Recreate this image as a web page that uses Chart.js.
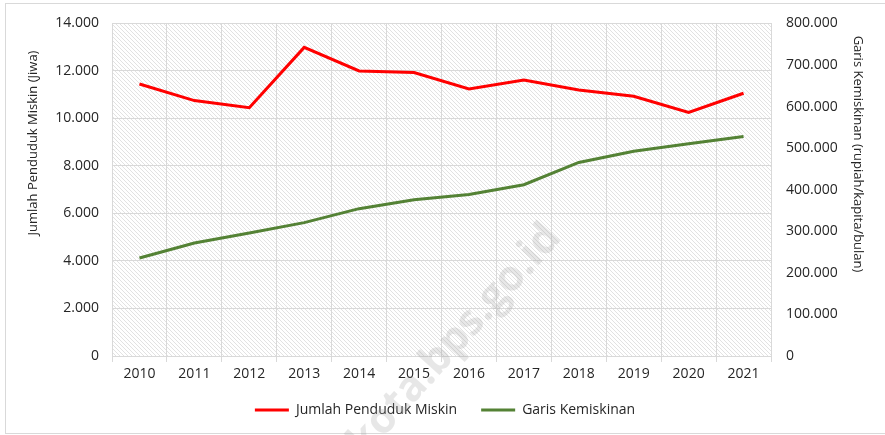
<!DOCTYPE html>
<html>
<head>
<meta charset="utf-8">
<script src="https://cdn.jsdelivr.net/npm/chart.js@4.4.1/dist/chart.umd.min.js"></script>
<style>
  html, body { margin: 0; padding: 0; background: #fff; }
  #wrap { width: 885px; height: 435px; position: relative; }
</style>
</head>
<body>
<div id="wrap"><canvas id="chart"></canvas></div>
<script>
/* ── DATA ─────────────────────────────────────────────────── */
const years = ['2010', '2011', '2012', '2013', '2014', '2015',
               '2016', '2017', '2018', '2019', '2020', '2021'];
const pendudukMiskin  = [11450, 10750, 10450, 12990, 12000, 11930,
                         11240, 11620, 11200, 10930, 10250, 11060];
const garisKemiskinan = [235800, 271800, 295800, 320800, 354400, 376000,
                         388700, 412000, 465500, 492700, 510400, 528000];

const titleLeft  = 'Jumlah Penduduk Miskin (Jiwa)';
const titleRight = 'Garis Kemiskinan (rupiah/kapita/bulan)';

const TEXT = '#262626';
const GRID = '#d9d9d9';
const FONT = "'Open Sans', 'Noto Sans', sans-serif";

const fmt = v => String(v).replace(/\B(?=(\d{3})+(?!\d))/g, '.');

/* ── HATCH PATTERN for plot area ──────────────────────────── */
function makeHatch() {
  const c = document.createElement('canvas');
  c.width = 4; c.height = 4;
  const g = c.getContext('2d');
  g.fillStyle = '#ffffff';
  g.fillRect(0, 0, 4, 4);
  g.fillStyle = '#e2e2e2';
  for (let i = 0; i < 4; i++) g.fillRect(i, i, 1, 1);
  return g.createPattern(c, 'repeat');
}

const decor = {
  id: 'decor',
  beforeDraw(chart) {
    const { ctx, chartArea: a } = chart;
    ctx.save();
    ctx.fillStyle = makeHatch();
    ctx.fillRect(a.left, a.top, a.right - a.left, a.bottom - a.top);
    ctx.restore();
  },
  afterDraw(chart) {
    const { ctx } = chart;
    ctx.save();
    // outer frame
    ctx.strokeStyle = GRID;
    ctx.lineWidth = 1;
    ctx.strokeRect(5.5, 3.5, 890, 430);

    // axis titles (placed like the original, above the axis centre)
    ctx.fillStyle = TEXT;
    ctx.font = "13px 'Open Sans', sans-serif";
    ctx.textAlign = 'center';
    ctx.textBaseline = 'middle';
    ctx.save();
    ctx.translate(33, 143);
    ctx.rotate(-Math.PI / 2);
    ctx.fillText(titleLeft, 0, 0);
    ctx.restore();
    ctx.save();
    ctx.translate(858, 154);
    ctx.rotate(Math.PI / 2);
    ctx.fillText(titleRight, 0, 0);
    ctx.restore();

    // watermark
    ctx.translate(455, 340);
    ctx.rotate(-48 * Math.PI / 180);
    ctx.font = "bold 42px 'Open Sans', sans-serif";
    ctx.fillStyle = 'rgba(160,160,160,0.25)';
    ctx.fillText('kota.bps.go.id', 0, 0);
    ctx.restore();
  }
};

/* ── CHART ────────────────────────────────────────────────── */
new Chart(document.getElementById('chart'), {
  type: 'line',
  data: {
    labels: years,
    datasets: [
      {
        label          : 'Jumlah Penduduk Miskin',
        data           : pendudukMiskin,
        borderColor    : '#ff0000',
        backgroundColor: '#ff0000',
        borderWidth    : 3,
        pointRadius    : 0,
        tension        : 0,
        yAxisID        : 'y',
      },
      {
        label          : 'Garis Kemiskinan',
        data           : garisKemiskinan,
        borderColor    : '#548235',
        backgroundColor: '#548235',
        borderWidth    : 3,
        pointRadius    : 0,
        tension        : 0,
        yAxisID        : 'y1',
      }
    ]
  },
  options: {
    responsive: true,
    maintainAspectRatio: false,
    animation: false,
    layout: { padding: { left: 5, right: 0, top: 15, bottom: 8 } },
    scales: {
      x: {
        offset: true,
        grid  : { offset: true, color: GRID, tickLength: 6 },
        border: { color: GRID },
        ticks : { color: TEXT, font: { family: FONT, size: 14 }, padding: 4, maxRotation: 0 },
        afterFit: s => { s.height = 23; }
      },
      y: {
        position: 'left',
        min: 0, max: 14000,
        ticks : { stepSize: 2000, color: TEXT, font: { family: FONT, size: 14 }, padding: 13, callback: v => fmt(v) },
        grid  : { color: GRID, drawTicks: false },
        border: { color: GRID },
        afterFit: s => { s.width = 107; }
      },
      y1: {
        position: 'right',
        min: 0, max: 800000,
        ticks : { stepSize: 100000, color: TEXT, font: { family: FONT, size: 14 }, padding: 15, callback: v => fmt(v) },
        grid  : { display: false, drawTicks: false },
        border: { color: GRID },
        afterFit: s => { s.width = 114; }
      }
    },
    plugins: {
      legend: {
        position: 'bottom',
        labels: {
          color: TEXT,
          font: { family: FONT, size: 14 },
          boxWidth: 34,
          boxHeight: 3,
          padding: 24,
          generateLabels: chart => chart.data.datasets.map((ds, i) => ({
            text        : ds.label,
            fillStyle   : ds.borderColor,
            strokeStyle : ds.borderColor,
            lineWidth   : 0,
            fontColor   : TEXT,
            hidden      : false,
            datasetIndex: i
          }))
        }
      },
      tooltip: { enabled: false }
    }
  },
  plugins: [decor]
});
</script>
</body>
</html>
